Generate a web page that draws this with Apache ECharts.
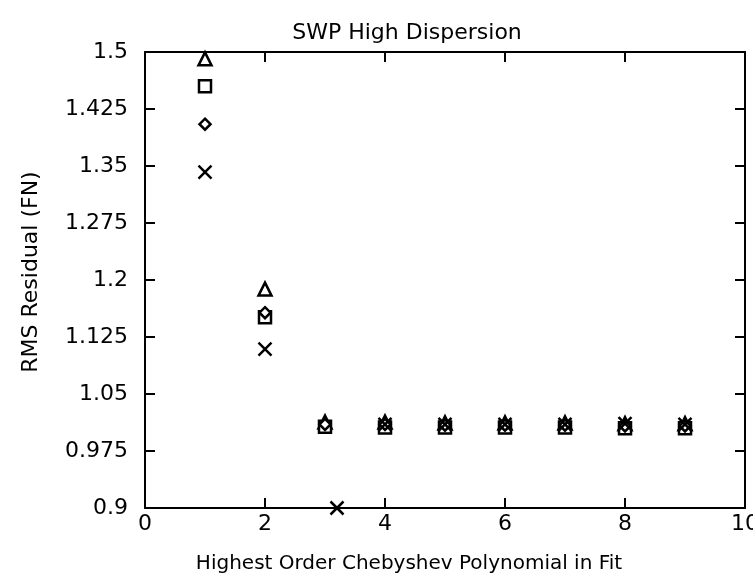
<!DOCTYPE html>
<html>
<head>
<meta charset="utf-8">
<script src="https://cdn.jsdelivr.net/npm/echarts@6/dist/echarts.min.js"></script>
<style>
  html, body { margin: 0; padding: 0; background: #fff; }
  #main { width: 753px; height: 581px; }
</style>
</head>
<body>
<div id="main"></div>
<script>
// polynomial order on x, rms residual per series
var triangleData = [[1, 1.491], [2, 1.188], [3, 1.013], [4, 1.013], [5, 1.012], [6, 1.012], [7, 1.012], [8, 1.011], [9, 1.011]];
var squareData = [[1, 1.455], [2, 1.151], [3, 1.007], [4, 1.006], [5, 1.006], [6, 1.006], [7, 1.006], [8, 1.005], [9, 1.005]];
var diamondData = [[1, 1.405], [2, 1.157], [3, 1.010], [4, 1.010], [5, 1.009], [6, 1.009], [7, 1.009], [8, 1.008], [9, 1.008]];
var crossData = [[1, 1.342], [2, 1.109], [3.2, 0.9], [4, 1.010], [5, 1.010], [6, 1.010], [7, 1.010], [8, 1.011], [9, 1.010]];

var yTickLabels = ['0.9', '0.975', '1.05', '1.125', '1.2', '1.275', '1.35', '1.425', '1.5'];

var FONT = 'DejaVu Sans';

var markerStyle = { color: '#fff', borderColor: '#000', borderWidth: 2.5, opacity: 1 };

function pointSeries(name, data, symbol, size) {
  return {
    name: name,
    type: 'scatter',
    data: data,
    symbol: symbol,
    symbolSize: size,
    clip: false,
    itemStyle: markerStyle,
    emphasis: { disabled: true }
  };
}

var myChart = echarts.init(document.getElementById('main'));

var axisLine = { show: true, onZero: false, lineStyle: { color: '#000', width: 2 } };
var tickIn = { show: true, inside: true, length: 10, lineStyle: { color: '#000', width: 2 } };

var option = {
  animation: false,
  backgroundColor: '#fff',
  title: {
    text: 'SWP High Dispersion',
    left: 402,
    top: 17,
    textAlign: 'center',
    textStyle: { fontFamily: FONT, fontSize: 22, fontWeight: 'normal', color: '#000' }
  },
  grid: { left: 145, right: 8, top: 52, bottom: 73, outerBoundsMode: 'none', containLabel: false },
  xAxis: [{
    type: 'value',
    min: 0, max: 10, interval: 2,
    name: 'Highest Order Chebyshev Polynomial in Fit',
    nameLocation: 'middle',
    nameGap: 46,
    nameTextStyle: { fontFamily: FONT, fontSize: 20, color: '#000', padding: [0, 72, 0, 0] },
    axisLine: axisLine,
    axisTick: tickIn,
    splitLine: { show: false },
    axisLabel: { fontFamily: FONT, fontSize: 22, color: '#000', margin: 5, hideOverlap: false }
  }, {
    type: 'value',
    position: 'top',
    min: 0, max: 10, interval: 2,
    axisLine: axisLine,
    axisTick: tickIn,
    splitLine: { show: false },
    axisLabel: { show: false }
  }],
  yAxis: [{
    type: 'value',
    min: 0.9, max: 1.5, interval: 0.075,
    name: 'RMS Residual (FN)',
    nameLocation: 'middle',
    nameGap: 103,
    nameRotate: 90,
    nameTextStyle: { fontFamily: FONT, fontSize: 22, color: '#000', padding: [0, 0, 0, 16] },
    axisLine: axisLine,
    axisTick: tickIn,
    splitLine: { show: false },
    axisLabel: {
      fontFamily: FONT, fontSize: 22, color: '#000', margin: 17,
      formatter: function (v) { return yTickLabels[Math.round((v - 0.9) / 0.075)]; }
    }
  }, {
    type: 'value',
    position: 'right',
    min: 0.9, max: 1.5, interval: 0.075,
    axisLine: axisLine,
    axisTick: tickIn,
    splitLine: { show: false },
    axisLabel: { show: false }
  }],
  series: [
    pointSeries('triangle', triangleData, 'triangle', 13),
    pointSeries('square', squareData, 'rect', 12),
    pointSeries('diamond', diamondData, 'diamond', 11),
    pointSeries('cross', crossData, 'path://M0,0L10,10M10,0L0,10', 13)
  ]
};

myChart.setOption(option);
</script>
</body>
</html>
